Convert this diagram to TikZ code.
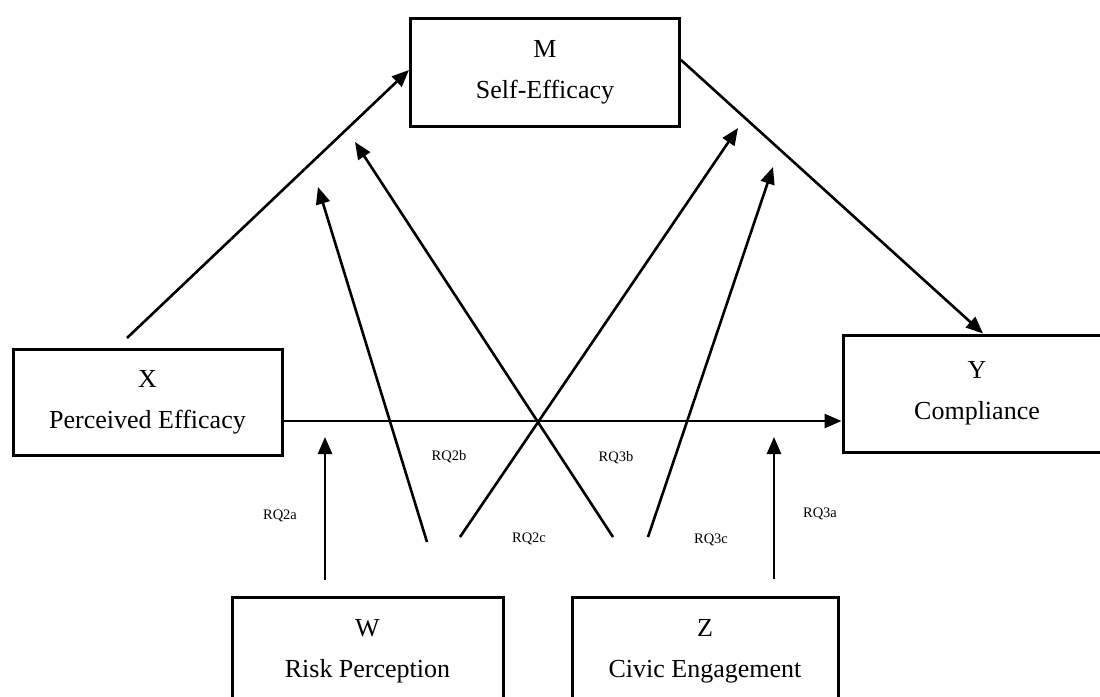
\documentclass[tikz,border=0pt]{standalone}
\usepackage{fontspec}
\setmainfont{Liberation Serif}
\usetikzlibrary{arrows.meta}
\begin{document}
\begin{tikzpicture}[x=1pt,y=-1pt,
  box/.style={draw, line width=3pt, align=center, inner sep=0pt, font=\fontsize{26}{41}\selectfont},
  arr/.style={-{Triangle[length=17pt,width=14pt]}, line width=2.6pt},
  lbl/.style={font=\fontsize{14.5}{16}\selectfont, inner sep=0pt}]
\clip (0,0) rectangle (1100,696);
\fill[white] (0,0) rectangle (1100,696);
% boxes
\node[box, minimum width=269pt, minimum height=108pt] (M) at (545,72) {M\\Self-Efficacy};
\node[box, minimum width=269pt, minimum height=106pt] (X) at (147.5,402) {X\\Perceived Efficacy};
\node[box, minimum width=268pt, minimum height=117pt] (Y) at (977,393.5) {Y\\Compliance};
\node[box, minimum width=271pt, minimum height=108pt] (W) at (367.5,651) {W\\Risk Perception};
\node[box, minimum width=266pt, minimum height=108pt] (Z) at (705,651) {Z\\Civic Engagement};
% free ends
\coordinate (xs) at (127,338);
\coordinate (wa0) at (325,580); \coordinate (wa1) at (325,437);
\coordinate (wb0) at (427,542); \coordinate (wb1) at (318,187);
\coordinate (wc0) at (460,537); \coordinate (wc1) at (738,128);
\coordinate (zb0) at (613,537); \coordinate (zb1) at (355,142);
\coordinate (zc0) at (648,537); \coordinate (zc1) at (773,167);
\coordinate (za0) at (774,579); \coordinate (za1) at (774,437);
% paths
\draw[arr] (xs) -- (M.west |- 0,70);
\draw[arr] (M.east |- 0,60) -- (Y.north -| 983,0);
\draw[arr] (X.east |- 0,421) -- (Y.west |- 0,421);
\draw[arr] (wa0) -- (wa1);
\draw[arr] (wb0) -- (wb1);
\draw[arr] (wc0) -- (wc1);
\draw[arr] (zb0) -- (zb1);
\draw[arr] (zc0) -- (zc1);
\draw[arr] (za0) -- (za1);
% labels
\node[lbl] (l2a) at (280,516) {RQ2a};
\node[lbl] (l2b) at (449,457) {RQ2b};
\node[lbl] (l2c) at (529,539) {RQ2c};
\node[lbl] (l3b) at (616,458) {RQ3b};
\node[lbl] (l3c) at (711,540) {RQ3c};
\node[lbl] (l3a) at (820,514) {RQ3a};
\end{tikzpicture}
\end{document}
